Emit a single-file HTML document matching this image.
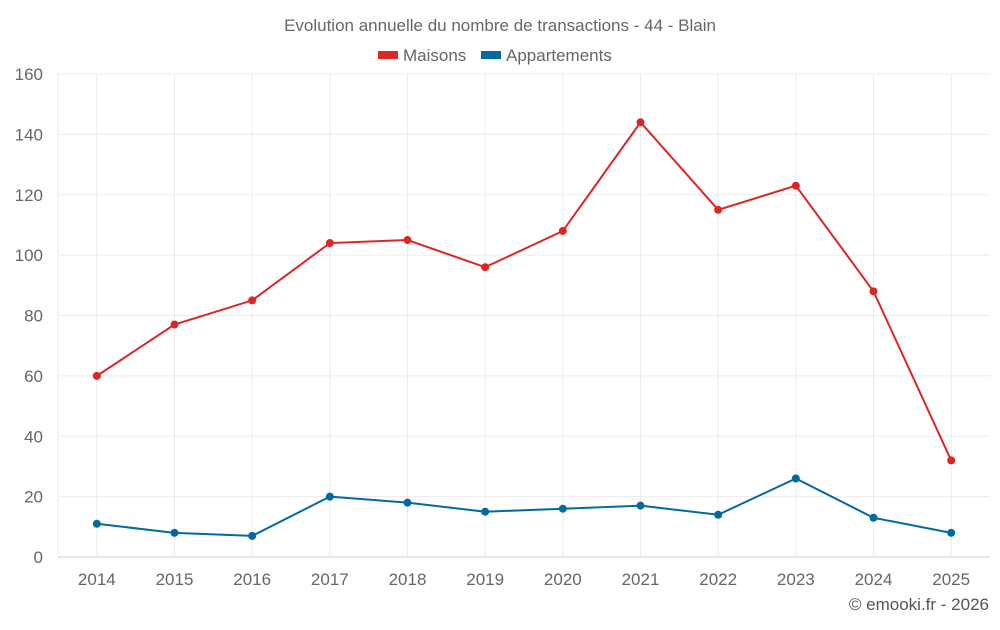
<!DOCTYPE html>
<html><head><meta charset="utf-8"><style>
body{margin:0;background:#fff;font-family:"Liberation Sans",sans-serif;}
svg text{font-family:"Liberation Sans",sans-serif;}
</style></head><body>
<svg id="chart" width="1000" height="625" xmlns="http://www.w3.org/2000/svg">
<text x="500" y="31" text-anchor="middle" font-size="17" fill="#666">Evolution annuelle du nombre de transactions - 44 - Blain</text>
<g><rect x="378" y="51" width="20" height="8" fill="#dc2626"/><text x="403" y="61" font-size="17" fill="#666">Maisons</text></g>
<g><rect x="481" y="51" width="20" height="8" fill="#0369a1"/><text x="506" y="61" font-size="17" fill="#666">Appartements</text></g>
<g id="grid"></g><g id="axes"></g><g id="series"></g>
<text x="989" y="610" text-anchor="end" font-size="17" fill="#555">© emooki.fr - 2026</text>
</svg>
<script>
const categories=["2014","2015","2016","2017","2018","2019","2020","2021","2022","2023","2024","2025"];
const maisons=[60,77,85,104,105,96,108,144,115,123,88,32];
const appartements=[11,8,7,20,18,15,16,17,14,26,13,8];
const yTicks=[0,20,40,60,80,100,120,140,160];
const L=58,R=990,T=74,B=557,yMax=160;
const bw=(R-L)/categories.length;
const x=i=>L+bw*(i+0.5);
const y=v=>B-(v/yMax)*(B-T);
const NS="http://www.w3.org/2000/svg";
function mk(tag,attrs,parent){const e=document.createElementNS(NS,tag);for(const k in attrs)e.setAttribute(k,attrs[k]);parent.appendChild(e);return e;}
const grid=document.getElementById('grid'),axes=document.getElementById('axes'),series=document.getElementById('series');
yTicks.forEach(t=>{
  const l=mk('line',{x1:L,x2:R,y1:y(t),y2:y(t),stroke:t===0?'#ccc':'#ebebeb'},grid);
  
  
  const tx=mk('text',{x:43,y:y(t)+6,'text-anchor':'end','font-size':17,fill:'#666'},axes);
  tx.textContent=t;
  
  
});
const la=mk('line',{x1:L,x2:L,y1:T,y2:B,stroke:'#ebebeb'},grid);


categories.forEach((c,i)=>{
  const l=mk('line',{x1:x(i),x2:x(i),y1:T,y2:B,stroke:'#ebebeb'},grid);
  
  
  const tx=mk('text',{x:x(i),y:585,'text-anchor':'middle','font-size':17,fill:'#666'},axes);
  tx.textContent=c;
  
  
});
function draw(data,color,name){
  const p=mk('polyline',{points:data.map((v,i)=>x(i)+','+y(v)).join(' '),fill:'none',stroke:color,'stroke-width':2},series);
  
  
  data.forEach((v,i)=>{
    const c=mk('circle',{cx:x(i),cy:y(v),r:4,fill:color},series);
    
    
  });
}
draw(maisons,'#dc2626','maisons');
draw(appartements,'#0369a1','appartements');
</script>
</body></html>
